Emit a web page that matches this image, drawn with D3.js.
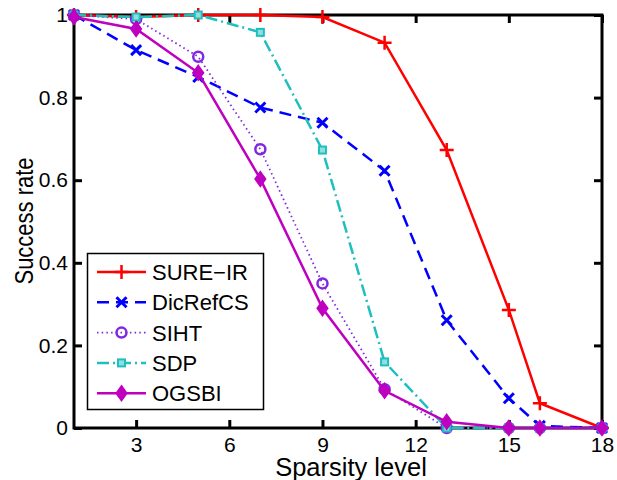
<!DOCTYPE html>
<html><head><meta charset="utf-8">
<script src="https://cdn.jsdelivr.net/npm/d3@7"></script>
<style>body{margin:0;background:#fff}svg{display:block}text{font-family:"Liberation Sans",Arial,sans-serif;fill:#000}</style>
</head><body><svg id="c" width="617" height="480"></svg>
<script>
const xValues = [1, 3, 5, 7, 9, 11, 13, 15, 16, 18];
const sureIR   = [1, 0.995, 1, 1, 0.995, 0.933, 0.673, 0.286, 0.06, 0];
const dicRefCS = [1, 0.915, 0.85, 0.776, 0.739, 0.623, 0.261, 0.072, 0.005, 0];
const siht     = [1, 0.99, 0.899, 0.675, 0.35, 0.094, 0, 0, 0, 0];
const sdp      = [1, 0.995, 1, 0.958, 0.673, 0.16, 0, 0, 0, 0];
const ogsbi    = [0.995, 0.966, 0.86, 0.603, 0.29, 0.09, 0.015, 0, 0, 0];
const seriesNames = ["SURE\u2212IR", "DicRefCS", "SIHT", "SDP", "OGSBI"];
const xTicks = [3, 6, 9, 12, 15, 18];
const yTicks = [0, 0.2, 0.4, 0.6, 0.8, 1];

const styles = [
  {color:"#ff0000", width:2.5, dash:null, marker:"plus"},
  {color:"#0000ff", width:2.5, dash:"12,7", marker:"cross"},
  {color:"#7f28e0", width:1.8, dash:"1.5,3.2", marker:"circle"},
  {color:"#20bfbf", width:2.5, dash:"12,4,2,4", marker:"square"},
  {color:"#bf00bf", width:2.5, dash:null, marker:"diamond"}
];
const allSeries = [sureIR, dicRefCS, siht, sdp, ogsbi];

const svg = d3.select("#c");
const L = 74, R = 602, T = 15, B = 428;
const x = d3.scaleLinear().domain([1, 18]).range([L, R]);
const y = d3.scaleLinear().domain([0, 1]).range([B, T]);

function drawMarker(g, type, cx, cy, color) {
  if (type === "plus") {
    g.append("path").attr("d", `M${cx-7},${cy}H${cx+7}M${cx},${cy-7}V${cy+7}`).attr("stroke", color).attr("stroke-width", 2.5).attr("fill","none");
  } else if (type === "cross") {
    g.append("path").attr("d", `M${cx-5},${cy-5}L${cx+5},${cy+5}M${cx-5},${cy+5}L${cx+5},${cy-5}`).attr("stroke", color).attr("stroke-width", 3).attr("fill","none");
  } else if (type === "circle") {
    g.append("circle").attr("cx", cx).attr("cy", cy).attr("r", 5).attr("stroke", color).attr("stroke-width", 2.5).attr("fill","none");
  } else if (type === "square") {
    g.append("rect").attr("x", cx-3.5).attr("y", cy-3.5).attr("width", 7).attr("height", 7).attr("stroke", color).attr("stroke-width", 2).attr("fill","#8fdfdf");
  } else if (type === "diamond") {
    g.append("path").attr("d", `M${cx},${cy-7}L${cx+5},${cy}L${cx},${cy+7}L${cx-5},${cy}Z`).attr("stroke", color).attr("stroke-width", 2).attr("fill", color);
  }
}

// axes box with inward ticks
const axisG = svg.append("g");
const xb = d3.axisBottom(x).tickValues(xTicks).tickSize(-8).tickPadding(9).tickFormat(d3.format("d"));
const yl = d3.axisLeft(y).tickValues(yTicks).tickSize(-8).tickPadding(6).tickFormat(d => d === 0 || d === 1 ? String(d) : d.toFixed(1));
const xt = d3.axisTop(x).tickValues(xTicks).tickSize(-8).tickFormat("");
const yr = d3.axisRight(y).tickValues(yTicks).tickSize(-8).tickFormat("");
[[xb, `translate(0,${B})`], [yl, `translate(${L},0)`], [xt, `translate(0,${T})`], [yr, `translate(${R},0)`]].forEach(([ax, tr]) => {
  const g = axisG.append("g").attr("transform", tr).call(ax);
  g.select(".domain").remove();
  g.selectAll(".tick line").attr("stroke", "#000").attr("stroke-width", 3);
  g.selectAll(".tick text").style("font-size", "21px").attr("fill", "#000");
});
axisG.append("rect").attr("x", L).attr("y", T).attr("width", R-L).attr("height", B-T).attr("fill","none").attr("stroke","#000").attr("stroke-width",3);

// series
const line = d3.line().x((d, i) => x(xValues[i])).y(d => y(d));
allSeries.forEach((vals, si) => {
  const st = styles[si];
  const g = svg.append("g");
  g.append("path").datum(vals).attr("d", line).attr("fill", "none").attr("stroke", st.color).attr("stroke-width", st.width).attr("stroke-dasharray", st.dash);
  vals.forEach((v, i) => drawMarker(g, st.marker, x(xValues[i]), y(v), st.color));
});

// labels
svg.append("text").attr("x", 351).attr("y", 476).attr("text-anchor", "middle").style("font-size", "25.5px").text("Sparsity level");
svg.append("text").attr("transform", "translate(33,221) rotate(-90) scale(1,1.2)").attr("text-anchor", "middle").style("font-size", "22px").text("Success rate");

// legend
const lg = svg.append("g");
lg.append("rect").attr("x", 87.5).attr("y", 253.5).attr("width", 176).attr("height", 156).attr("fill", "#fff").attr("stroke", "#000").attr("stroke-width", 1.5);
seriesNames.forEach((name, i) => {
  const st = styles[i];
  const yy = 272 + i * 30.3;
  lg.append("line").attr("x1", 97).attr("x2", 146).attr("y1", yy).attr("y2", yy).attr("stroke", st.color).attr("stroke-width", st.width).attr("stroke-dasharray", st.dash);
  drawMarker(lg, st.marker, 121.5, yy, st.color);
  lg.append("text").attr("x", 152).attr("y", yy + 8).style("font-size", "22px").text(name);
});
</script></body></html>
